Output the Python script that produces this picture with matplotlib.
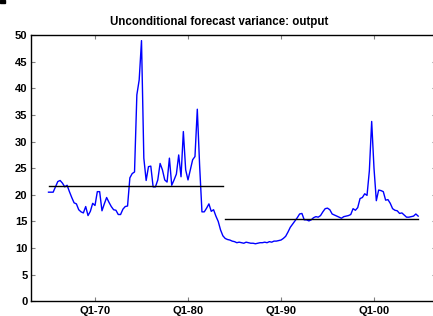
import matplotlib
matplotlib.use("Agg")
import matplotlib.pyplot as plt
import numpy as np

# Quarterly data 1965Q1 .. 2004Q4
start_year = 1965
variance = [
    20.5, 20.5, 20.5, 21.5, 22.5, 22.7, 22.2, 21.5, 21.8, 20.6,
    19.5, 18.5, 18.3, 17.2, 16.8, 16.6, 17.8, 16.1, 16.9, 18.4,
    18.0, 20.6, 20.6, 17.0, 18.3, 19.5, 18.6, 17.8, 17.2, 17.1,
    16.3, 16.3, 17.3, 17.8, 17.9, 23.2, 24.0, 24.3, 38.8, 41.6,
    49.0, 26.9, 22.7, 25.3, 25.4, 21.5, 21.5, 22.8, 25.9, 24.7,
    22.8, 22.4, 26.9, 21.8, 22.8, 23.9, 27.5, 23.4, 31.9, 24.7,
    22.8, 24.7, 26.6, 27.2, 36.1, 25.5, 16.8, 16.8, 17.5, 18.3,
    16.9, 17.2, 16.0, 15.0, 13.4, 12.3, 11.8, 11.6, 11.5, 11.3,
    11.2, 11.0, 11.1, 11.0, 10.9, 11.1, 11.0, 10.9, 10.9, 10.8,
    10.9, 11.0, 11.0, 11.1, 11.0, 11.2, 11.1, 11.3, 11.3, 11.4,
    11.5, 11.8, 12.2, 13.0, 13.9, 14.5, 15.1, 15.7, 16.4, 16.5,
    15.3, 15.3, 15.1, 15.3, 15.7, 15.9, 15.8, 16.1, 16.8, 17.4,
    17.5, 17.2, 16.4, 16.2, 16.0, 15.8, 15.6, 15.9, 16.0, 16.1,
    16.3, 17.4, 17.1, 17.6, 19.3, 19.5, 20.2, 19.9, 24.5, 33.8,
    25.0, 18.9, 20.9, 20.8, 20.6, 19.0, 19.1, 18.4, 17.4, 17.1,
    17.0, 16.5, 16.6, 16.2, 15.8, 15.8, 15.9, 16.0, 16.4, 16.0,
]
# regime means (start index, end index, value)
mean1_range = (0, 75)
mean1_value = 21.6
mean2_range = (76, 159)
mean2_value = 15.4

tick_years = [1970, 1980, 1990, 2000]
tick_labels = ["Q1-70", "Q1-80", "Q1-90", "Q1-00"]
yticks = list(range(0, 55, 5))

t = start_year + np.arange(len(variance)) / 4.0

plt.rcParams['font.family'] = ['Liberation Sans', 'DejaVu Sans']
fig = plt.figure(figsize=(4.33, 3.16), dpi=100)
W, H = 433, 316
left, right, top, bottom = 31, 436, 35.3, 301.2
ax = fig.add_axes([left / W, 1 - bottom / H, (right - left) / W, (bottom - top) / H])

ax.plot(t, variance, color=(0, 0, 1), lw=1.0)
ax.plot([t[mean1_range[0]], t[mean1_range[1]]], [mean1_value] * 2, color='black', lw=1.0)
ax.plot([t[mean2_range[0]], t[mean2_range[1]]], [mean2_value] * 2, color='black', lw=1.0)

ax.set_xlim(1963.118, 2006.667)
ax.set_ylim(0, 50)
ax.set_xticks(tick_years)
ax.set_xticklabels(tick_labels, fontsize=8, fontweight='bold')
ax.set_yticks(yticks)
ax.set_yticklabels([str(v) for v in yticks], fontsize=8, fontweight='bold')
ax.tick_params(direction='in', length=3, width=0.8, color='#808080', top=True, right=True)
ax.tick_params(axis='x', pad=3.5)
ax.tick_params(axis='y', pad=2.5)
for s in ax.spines.values():
    s.set_linewidth(1.0)

fig.text(219 / W, 1 - 22 / H, "Unconditional forecast variance: output", ha='center', va='center',
         fontsize=8.3, fontweight='bold')
fig.patches.append(plt.Rectangle((0, 1 - 3 / H), 5 / W, 3 / H, transform=fig.transFigure,
                                 color='black', figure=fig))

fig.savefig("out.png", dpi=100)
